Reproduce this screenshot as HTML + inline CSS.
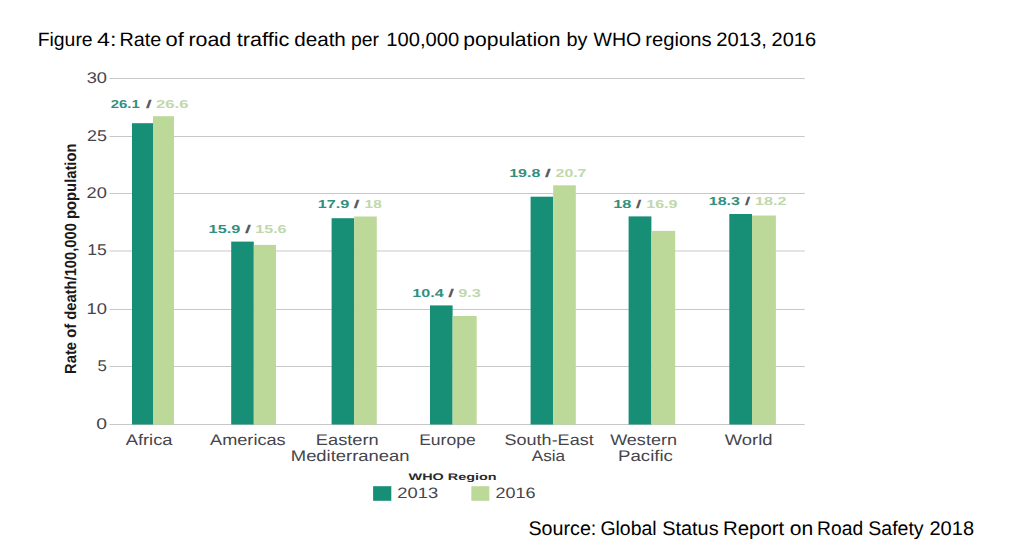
<!DOCTYPE html>
<html><head><meta charset="utf-8"><style>html,body{margin:0;padding:0;background:#fff;overflow:hidden;}svg{display:block;}text{font-family:"Liberation Sans",sans-serif;white-space:pre;text-rendering:geometricPrecision;}</style></head>
<body><svg width="1021" height="560" viewBox="0 0 1021 560">
<rect width="1021" height="560" fill="#fff"/>
<rect x="109.5" y="78" width="695.2" height="1" fill="#c8c8c8"/>
<rect x="109.5" y="136" width="695.2" height="1" fill="#c8c8c8"/>
<rect x="109.5" y="193" width="695.2" height="1" fill="#c8c8c8"/>
<rect x="109.5" y="250.5" width="695.2" height="1" fill="#c8c8c8"/>
<rect x="109.5" y="309" width="695.2" height="1" fill="#c8c8c8"/>
<rect x="109.5" y="366" width="695.2" height="1" fill="#c8c8c8"/>
<rect x="109.5" y="424" width="695.2" height="1" fill="#c8c8c8"/>
<rect x="132" y="123.2" width="21" height="301.3" fill="#168f76"/>
<rect x="153" y="116.2" width="21" height="308.3" fill="#bcd99a"/>
<rect x="231.2" y="241.6" width="22.6" height="182.9" fill="#168f76"/>
<rect x="253.8" y="244.9" width="22.2" height="179.6" fill="#bcd99a"/>
<rect x="331.6" y="218.2" width="22.5" height="206.3" fill="#168f76"/>
<rect x="354.1" y="216.5" width="22.7" height="208.0" fill="#bcd99a"/>
<rect x="430" y="305.4" width="22.6" height="119.1" fill="#168f76"/>
<rect x="452.6" y="316" width="24.1" height="108.5" fill="#bcd99a"/>
<rect x="530.6" y="196.7" width="22.6" height="227.8" fill="#168f76"/>
<rect x="553.2" y="185.3" width="22.6" height="239.2" fill="#bcd99a"/>
<rect x="628.6" y="216.4" width="22.8" height="208.1" fill="#168f76"/>
<rect x="651.4" y="230.9" width="23.8" height="193.6" fill="#bcd99a"/>
<rect x="729.3" y="214" width="22.7" height="210.5" fill="#168f76"/>
<rect x="752" y="215.5" width="23.9" height="209.0" fill="#bcd99a"/>
<rect x="373.1" y="486.2" width="18.2" height="14.6" fill="#168f76"/>
<rect x="471.3" y="486.2" width="18" height="14.6" fill="#bcd99a"/>
<text x="37.67" y="45.9" font-size="19.4" font-weight="normal" fill="#000" textLength="54.98" lengthAdjust="spacingAndGlyphs">Figure</text>
<text x="97.10" y="45.9" font-size="19.4" font-weight="normal" fill="#000" textLength="19.36" lengthAdjust="spacingAndGlyphs">4:</text>
<text x="119.55" y="45.9" font-size="19.4" font-weight="normal" fill="#000" textLength="41.72" lengthAdjust="spacingAndGlyphs">Rate</text>
<text x="165.62" y="45.9" font-size="19.4" font-weight="normal" fill="#000" textLength="18.21" lengthAdjust="spacingAndGlyphs">of</text>
<text x="188.42" y="45.9" font-size="19.4" font-weight="normal" fill="#000" textLength="42.80" lengthAdjust="spacingAndGlyphs">road</text>
<text x="236.82" y="45.9" font-size="19.4" font-weight="normal" fill="#000" textLength="52.52" lengthAdjust="spacingAndGlyphs">traffic</text>
<text x="294.17" y="45.9" font-size="19.4" font-weight="normal" fill="#000" textLength="51.71" lengthAdjust="spacingAndGlyphs">death</text>
<text x="351.05" y="45.9" font-size="19.4" font-weight="normal" fill="#000" textLength="28.04" lengthAdjust="spacingAndGlyphs">per</text>
<text x="386.24" y="45.9" font-size="19.4" font-weight="normal" fill="#000" textLength="72.94" lengthAdjust="spacingAndGlyphs">100,000</text>
<text x="463.24" y="45.9" font-size="19.4" font-weight="normal" fill="#000" textLength="97.35" lengthAdjust="spacingAndGlyphs">population</text>
<text x="566.52" y="45.9" font-size="19.4" font-weight="normal" fill="#000" textLength="21.00" lengthAdjust="spacingAndGlyphs">by</text>
<text x="593.57" y="45.9" font-size="19.4" font-weight="normal" fill="#000" textLength="47.64" lengthAdjust="spacingAndGlyphs">WHO</text>
<text x="645.30" y="45.9" font-size="19.4" font-weight="normal" fill="#000" textLength="66.28" lengthAdjust="spacingAndGlyphs">regions</text>
<text x="716.16" y="45.9" font-size="19.4" font-weight="normal" fill="#000" textLength="50.61" lengthAdjust="spacingAndGlyphs">2013,</text>
<text x="771.57" y="45.9" font-size="19.4" font-weight="normal" fill="#000" textLength="44.57" lengthAdjust="spacingAndGlyphs">2016</text>
<text x="528.43" y="534.9" font-size="19.8" font-weight="normal" fill="#000" textLength="67.91" lengthAdjust="spacingAndGlyphs">Source:</text>
<text x="600.42" y="534.9" font-size="19.8" font-weight="normal" fill="#000" textLength="56.21" lengthAdjust="spacingAndGlyphs">Global</text>
<text x="662.22" y="534.9" font-size="19.8" font-weight="normal" fill="#000" textLength="56.43" lengthAdjust="spacingAndGlyphs">Status</text>
<text x="723.03" y="534.9" font-size="19.8" font-weight="normal" fill="#000" textLength="61.15" lengthAdjust="spacingAndGlyphs">Report</text>
<text x="789.77" y="534.9" font-size="19.8" font-weight="normal" fill="#000" textLength="23.49" lengthAdjust="spacingAndGlyphs">on</text>
<text x="817.12" y="534.9" font-size="19.8" font-weight="normal" fill="#000" textLength="45.97" lengthAdjust="spacingAndGlyphs">Road</text>
<text x="868.24" y="534.9" font-size="19.8" font-weight="normal" fill="#000" textLength="55.39" lengthAdjust="spacingAndGlyphs">Safety</text>
<text x="929.49" y="534.9" font-size="19.8" font-weight="normal" fill="#000" textLength="44.54" lengthAdjust="spacingAndGlyphs">2018</text>
<text x="86.67" y="82.6" font-size="15.5" font-weight="normal" fill="#45454c" textLength="20.26" lengthAdjust="spacingAndGlyphs">30</text>
<text x="87.04" y="140.6" font-size="15.5" font-weight="normal" fill="#45454c" textLength="19.88" lengthAdjust="spacingAndGlyphs">25</text>
<text x="86.62" y="197.6" font-size="15.5" font-weight="normal" fill="#45454c" textLength="20.31" lengthAdjust="spacingAndGlyphs">20</text>
<text x="87.32" y="255.1" font-size="15.5" font-weight="normal" fill="#45454c" textLength="19.58" lengthAdjust="spacingAndGlyphs">15</text>
<text x="86.57" y="313.6" font-size="15.5" font-weight="normal" fill="#45454c" textLength="20.36" lengthAdjust="spacingAndGlyphs">10</text>
<text x="97.52" y="370.6" font-size="15.5" font-weight="normal" fill="#45454c" textLength="9.35" lengthAdjust="spacingAndGlyphs">5</text>
<text x="96.22" y="428.6" font-size="15.5" font-weight="normal" fill="#45454c" textLength="10.75" lengthAdjust="spacingAndGlyphs">0</text>
<text x="110.71" y="108" font-size="11.5" font-weight="bold" fill="#33907f" textLength="29.02" lengthAdjust="spacingAndGlyphs">26.1</text>
<text x="145.76" y="108" font-size="11.5" font-weight="bold" fill="#5a5a62" textLength="6.07" lengthAdjust="spacingAndGlyphs">/</text>
<text x="156.06" y="108" font-size="11.5" font-weight="bold" fill="#c0d8ad" textLength="32.40" lengthAdjust="spacingAndGlyphs">26.6</text>
<text x="208.64" y="232.5" font-size="11.5" font-weight="bold" fill="#33907f" textLength="31.60" lengthAdjust="spacingAndGlyphs">15.9</text>
<text x="244.75" y="232.5" font-size="11.5" font-weight="bold" fill="#5a5a62" textLength="6.39" lengthAdjust="spacingAndGlyphs">/</text>
<text x="255.36" y="232.5" font-size="11.5" font-weight="bold" fill="#c0d8ad" textLength="31.18" lengthAdjust="spacingAndGlyphs">15.6</text>
<text x="317.74" y="207.7" font-size="11.5" font-weight="bold" fill="#33907f" textLength="31.60" lengthAdjust="spacingAndGlyphs">17.9</text>
<text x="353.46" y="207.7" font-size="11.5" font-weight="bold" fill="#5a5a62" textLength="6.07" lengthAdjust="spacingAndGlyphs">/</text>
<text x="364.60" y="207.7" font-size="11.5" font-weight="bold" fill="#c0d8ad" textLength="17.09" lengthAdjust="spacingAndGlyphs">18</text>
<text x="412.35" y="296.7" font-size="11.5" font-weight="bold" fill="#33907f" textLength="31.47" lengthAdjust="spacingAndGlyphs">10.4</text>
<text x="447.96" y="296.7" font-size="11.5" font-weight="bold" fill="#5a5a62" textLength="6.07" lengthAdjust="spacingAndGlyphs">/</text>
<text x="458.27" y="296.7" font-size="11.5" font-weight="bold" fill="#c0d8ad" textLength="22.65" lengthAdjust="spacingAndGlyphs">9.3</text>
<text x="509.26" y="176.7" font-size="11.5" font-weight="bold" fill="#33907f" textLength="31.07" lengthAdjust="spacingAndGlyphs">19.8</text>
<text x="544.86" y="176.7" font-size="11.5" font-weight="bold" fill="#5a5a62" textLength="6.18" lengthAdjust="spacingAndGlyphs">/</text>
<text x="555.58" y="176.7" font-size="11.5" font-weight="bold" fill="#c0d8ad" textLength="30.82" lengthAdjust="spacingAndGlyphs">20.7</text>
<text x="613.23" y="207.9" font-size="11.5" font-weight="bold" fill="#33907f" textLength="18.18" lengthAdjust="spacingAndGlyphs">18</text>
<text x="635.67" y="207.9" font-size="11.5" font-weight="bold" fill="#5a5a62" textLength="5.75" lengthAdjust="spacingAndGlyphs">/</text>
<text x="646.26" y="207.9" font-size="11.5" font-weight="bold" fill="#c0d8ad" textLength="31.18" lengthAdjust="spacingAndGlyphs">16.9</text>
<text x="708.86" y="204.6" font-size="11.5" font-weight="bold" fill="#33907f" textLength="31.07" lengthAdjust="spacingAndGlyphs">18.3</text>
<text x="744.88" y="204.6" font-size="11.5" font-weight="bold" fill="#5a5a62" textLength="5.65" lengthAdjust="spacingAndGlyphs">/</text>
<text x="755.05" y="204.6" font-size="11.5" font-weight="bold" fill="#c0d8ad" textLength="31.36" lengthAdjust="spacingAndGlyphs">18.2</text>
<text x="125.65" y="444.6" font-size="15.4" font-weight="normal" fill="#45454c" textLength="46.93" lengthAdjust="spacingAndGlyphs">Africa</text>
<text x="210.05" y="444.6" font-size="15.4" font-weight="normal" fill="#45454c" textLength="75.59" lengthAdjust="spacingAndGlyphs">Americas</text>
<text x="315.82" y="444.6" font-size="15.4" font-weight="normal" fill="#45454c" textLength="62.90" lengthAdjust="spacingAndGlyphs">Eastern</text>
<text x="290.81" y="461.3" font-size="15.4" font-weight="normal" fill="#45454c" textLength="118.74" lengthAdjust="spacingAndGlyphs">Mediterranean</text>
<text x="419.18" y="444.6" font-size="15.4" font-weight="normal" fill="#45454c" textLength="56.47" lengthAdjust="spacingAndGlyphs">Europe</text>
<text x="504.62" y="444.6" font-size="15.4" font-weight="normal" fill="#45454c" textLength="89.04" lengthAdjust="spacingAndGlyphs">South-East</text>
<text x="531.76" y="461.3" font-size="15.4" font-weight="normal" fill="#45454c" textLength="33.39" lengthAdjust="spacingAndGlyphs">Asia</text>
<text x="610.15" y="444.6" font-size="15.4" font-weight="normal" fill="#45454c" textLength="66.83" lengthAdjust="spacingAndGlyphs">Western</text>
<text x="617.98" y="461.3" font-size="15.4" font-weight="normal" fill="#45454c" textLength="55.00" lengthAdjust="spacingAndGlyphs">Pacific</text>
<text x="724.85" y="444.6" font-size="15.4" font-weight="normal" fill="#45454c" textLength="47.71" lengthAdjust="spacingAndGlyphs">World</text>
<text x="408.60" y="479.6" font-size="9.6" font-weight="bold" fill="#2a2a2a" textLength="87.99" lengthAdjust="spacingAndGlyphs">WHO Region</text>
<text x="397.38" y="497.5" font-size="15" font-weight="normal" fill="#45454c" textLength="40.88" lengthAdjust="spacingAndGlyphs">2013</text>
<text x="495.60" y="497.5" font-size="15" font-weight="normal" fill="#45454c" textLength="40.04" lengthAdjust="spacingAndGlyphs">2016</text>
<text transform="translate(75.6,372.9) rotate(-90)" x="-1.04" y="0" font-size="16" font-weight="bold" fill="#1a1a1a" textLength="230.42" lengthAdjust="spacingAndGlyphs">Rate of death/100,000 population</text>
</svg></body></html>
